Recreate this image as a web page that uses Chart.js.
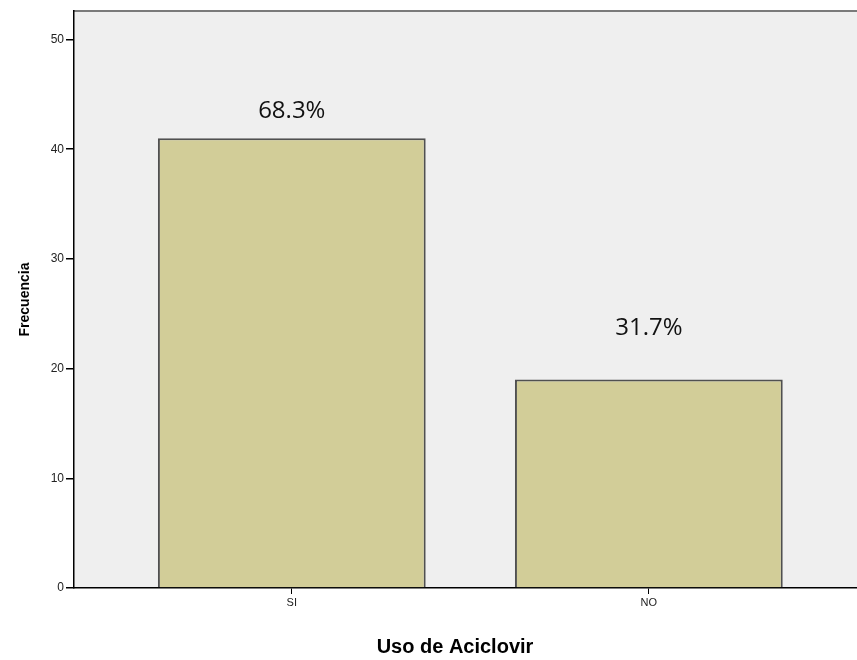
<!DOCTYPE html>
<html>
<head>
<meta charset="utf-8">
<script src="https://cdn.jsdelivr.net/npm/chart.js@4/dist/chart.umd.min.js"></script>
<style>
  html, body { margin: 0; padding: 0; background: #ffffff; overflow: hidden; }
  #wrap { width: 857px; height: 660px; }
</style>
</head>
<body>
<div id="wrap"><canvas id="c" width="857" height="660"></canvas></div>
<script>
// Uso de Aciclovir: frecuencias por categoría
const categories = ['SI', 'NO'];
const frequencies = [41, 19];
const yTicks = [0, 10, 20, 30, 40, 50];

const total = frequencies.reduce((a, b) => a + b, 0);
const percentLabels = frequencies.map(v => (v / total * 100).toFixed(1) + '%');
const points = frequencies.map((v, i) => ({ x: i, y: v }));

const FONT = '"Liberation Sans", Arial, sans-serif';

// Plot background, top frame line and axis titles
const frame = {
  id: 'frame',
  beforeDraw(chart) {
    const { ctx, chartArea: a } = chart;
    ctx.save();
    ctx.fillStyle = '#efefef';
    ctx.fillRect(a.left, a.top, a.right - a.left, a.bottom - a.top);
    ctx.strokeStyle = '#7a7a7a';
    ctx.lineWidth = 2;
    ctx.beginPath();
    ctx.moveTo(a.left, a.top);
    ctx.lineTo(a.right, a.top);
    ctx.stroke();
    ctx.restore();
  },
  afterDraw(chart) {
    const { ctx, chartArea: a } = chart;
    ctx.save();
    ctx.fillStyle = '#000000';
    ctx.textAlign = 'center';
    ctx.textBaseline = 'alphabetic';
    ctx.font = 'bold 20px ' + FONT;
    ctx.fillText('Uso de Aciclovir', a.left + 381, a.bottom + 65);
    ctx.translate(a.left - 49, (a.top + a.bottom) / 2);
    ctx.rotate(-Math.PI / 2);
    ctx.textBaseline = 'middle';
    ctx.font = 'bold 14px ' + FONT;
    ctx.fillText('Frecuencia', 0, 0);
    ctx.restore();
  }
};

// Percentage labels above each bar
const percentText = {
  id: 'percentText',
  afterDatasetsDraw(chart, args, opts) {
    const { ctx } = chart;
    const yScale = chart.scales.y;
    const meta = chart.getDatasetMeta(0);
    ctx.save();
    ctx.fillStyle = '#111111';
    ctx.font = '24px "Open Sans", ' + FONT;
    ctx.textAlign = 'center';
    ctx.textBaseline = 'middle';
    meta.data.forEach((bar, i) => {
      const y = yScale.getPixelForValue(frequencies[i] + opts.lift[i]);
      ctx.fillText(percentLabels[i], bar.x, y);
    });
    ctx.restore();
  }
};

new Chart(document.getElementById('c'), {
  type: 'bar',
  data: {
    datasets: [{
      data: points,
      backgroundColor: '#d2cd98',
      borderColor: '#505050',
      borderWidth: 2,
      borderSkipped: 'start',
      barPercentage: 0.75,
      categoryPercentage: 1.0
    }]
  },
  options: {
    responsive: false,
    animation: false,
    devicePixelRatio: 1,
    layout: { padding: { left: 0, top: 11, right: 0, bottom: 0 } },
    plugins: {
      legend: { display: false },
      tooltip: { enabled: false },
      title: { display: false },
      percentText: { lift: [2.5, 4.7] }
    },
    scales: {
      x: {
        type: 'linear',
        min: -0.61,
        max: 1.583,
        offset: false,
        grid: { offset: false, drawOnChartArea: false, drawTicks: true, tickLength: 6, color: '#000000', lineWidth: 1 },
        border: { display: true, color: '#000000', width: 1.5 },
        ticks: {
          color: '#222222',
          font: { family: FONT, size: 11 },
          padding: 2,
          callback: (v) => categories[v] ?? ''
        },
        afterBuildTicks(scale) {
          scale.ticks = categories.map((c, i) => ({ value: i }));
        },
        afterFit(scale) { scale.height = 72; }
      },
      y: {
        min: 0,
        max: 52.6,
        grid: { drawOnChartArea: false, drawTicks: true, tickLength: 8, color: '#000000', lineWidth: 1.5 },
        border: { display: true, color: '#000000', width: 1.5 },
        ticks: { stepSize: 10, color: '#222222', font: { family: FONT, size: 12 }, padding: 2 },
        afterBuildTicks(scale) {
          scale.ticks = yTicks.map(v => ({ value: v }));
        },
        afterFit(scale) { scale.width = 74; }
      }
    }
  },
  plugins: [frame, percentText]
});
</script>
</body>
</html>
